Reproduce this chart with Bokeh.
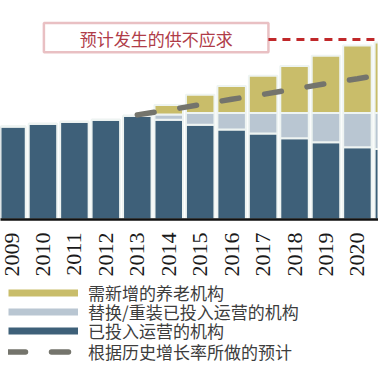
import math
from bokeh.plotting import figure
from bokeh.layouts import column
from bokeh.models import (ColumnDataSource, Range1d, FixedTicker, Legend, LegendItem,
                          BoxAnnotation, Label)
from bokeh.embed import file_html
from bokeh.resources import INLINE

# ---- data (arbitrary units) ----
years = [2009, 2010, 2011, 2012, 2013, 2014, 2015, 2016, 2017, 2018, 2019, 2020, 2021]
year_labels = [str(y) for y in years]
existing = [95, 98, 100, 102, 106, 102, 97, 92, 88, 83, 79, 74, 72]
replaced = [0, 0, 0, 0, 0, 5.5, 12, 17, 21, 26, 30, 35, 37]
new_need = [0, 0, 0, 0, 0, 9.5, 18.5, 27.5, 38, 48, 58.5, 69, 72]
trend_years = [2013, 2014, 2015, 2016, 2017, 2018, 2019, 2020, 2021]
trend_vals = [107, 112, 117.5, 123, 128, 133.5, 139, 144, 149.5]

series_labels = ["需新增的养老机构", "替换/重装已投入运营的机构", "已投入运营的机构", "根据历史增长率所做的预计"]
box_text = "预计发生的供不应求"

C_DARK = "#3e6079"
C_LIGHT = "#b9c6d2"
C_YEL = "#c9bd6a"
C_TREND = "#74746c"
C_RED = "#b52e38"

TREND_STYLE = dict(line_color=C_TREND, line_width=5.5, line_dash="17 26", line_cap="round")

src = ColumnDataSource(dict(year=years, existing=existing, replaced=replaced, new_need=new_need))

p = figure(width=378, height=279, x_range=Range1d(2008.65, 2020.67), y_range=Range1d(0, 224),
           output_backend="svg", toolbar_location=None,
           min_border=0, min_border_bottom=55)
p.outline_line_color = None
p.grid.visible = False
p.yaxis.visible = False
p.background_fill_color = "white"
p.border_fill_color = "white"

p.vbar_stack(["existing", "replaced", "new_need"], x="year", width=0.906, source=src,
             fill_color=[C_DARK, C_LIGHT, C_YEL], line_color="#eef4f2", line_width=2)

p.line(trend_years, trend_vals, **TREND_STYLE)

# x axis
ax = p.xaxis[0]
ax.ticker = FixedTicker(ticks=years)
ax.major_label_overrides = {y: l for y, l in zip(years, year_labels)}
ax.major_label_orientation = math.pi / 2
ax.major_tick_line_color = None
ax.minor_tick_line_color = None
ax.axis_line_color = "#111111"
ax.axis_line_width = 2.5
ax.major_label_standoff = 7
ax.major_label_text_font = "Liberation Serif"
ax.major_label_text_font_size = "22px"
ax.major_label_text_color = "#1a1a1a"

# annotation box
box = BoxAnnotation(left=2010.03, right=2017.17, bottom=171, top=201,
                    fill_color="white", fill_alpha=0, line_color=C_RED, line_width=2.5)
p.add_layout(box)
p.add_layout(Label(x=2013.6, y=185, text=box_text, text_align="center", text_baseline="middle",
                   text_font="Noto Sans CJK SC", text_font_size="17px", text_color="#b03c48"))
p.segment(x0=[2017.17], y0=[184], x1=[2021.5], y1=[184], line_color="#c0282a",
          line_width=3, line_dash="8 6")

# legend panel
q = figure(width=378, height=98, x_range=Range1d(0, 1), y_range=Range1d(0, 1),
           output_backend="svg", toolbar_location=None, min_border=0)
q.outline_line_color = None
q.grid.visible = False
q.axis.visible = False
q.background_fill_color = "white"
q.border_fill_color = "white"

nan = float("nan")
r1 = q.line(x=[nan], y=[nan], line_color=C_YEL, line_width=7)
r2 = q.line(x=[nan], y=[nan], line_color=C_LIGHT, line_width=7)
r3 = q.line(x=[nan], y=[nan], line_color=C_DARK, line_width=7)
r4 = q.line(x=[nan], y=[nan], **TREND_STYLE)

legend_rows = [(series_labels[0], r1, 72), (series_labels[1], r2, 53),
               (series_labels[2], r3, 34), (series_labels[3], r4, 13)]
for lab, rend, vy in legend_rows:
    q.add_layout(Legend(items=[LegendItem(label=lab, renderers=[rend])],
                        location=(8, vy), orientation="vertical",
                        glyph_width=70, glyph_height=19, label_height=19, spacing=0,
                        padding=0, margin=0, label_standoff=10,
                        border_line_color=None, background_fill_alpha=0,
                        label_text_font="Noto Sans CJK SC", label_text_font_size="17px",
                        label_text_color="#3d3d3d"))

layout = column(p, q, spacing=0)
open("out.html", "w").write(file_html(layout, INLINE))
